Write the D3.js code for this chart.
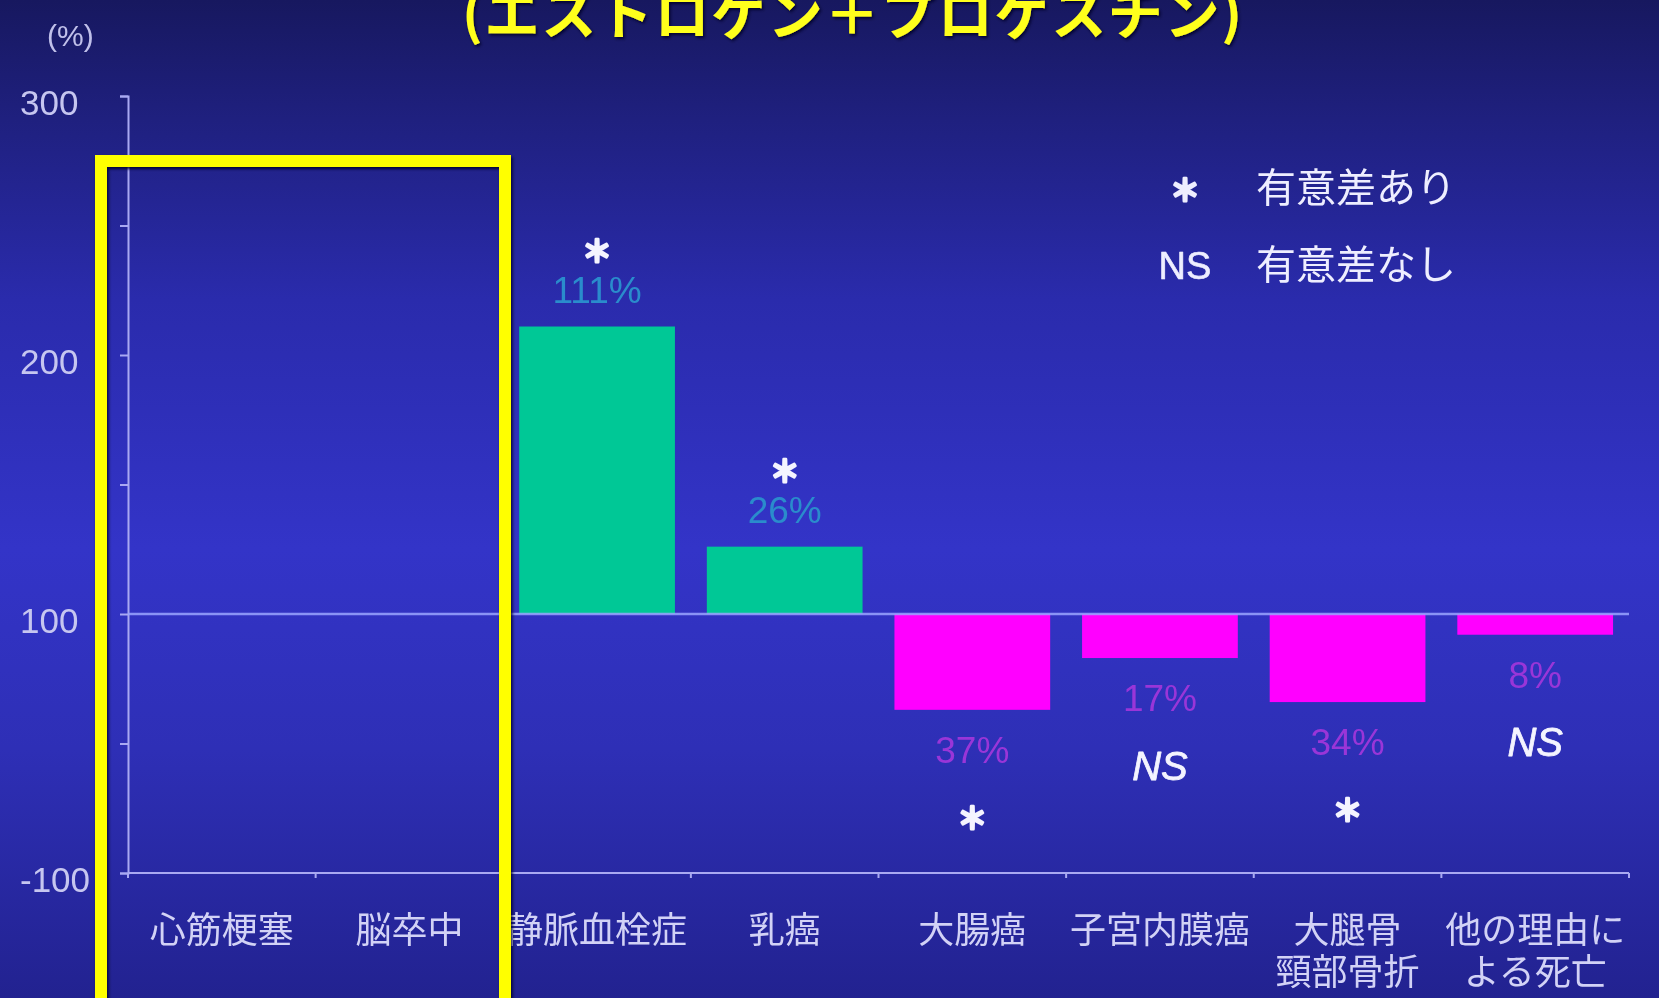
<!DOCTYPE html>
<html lang="ja">
<head>
<meta charset="utf-8">
<script src="https://cdn.jsdelivr.net/npm/d3@7"></script>
<style>
  html, body { margin: 0; padding: 0; background: #22238f; overflow: hidden; }
  svg { display: block; }
</style>
</head>
<body>
<svg id="chart" width="1659" height="998"></svg>
<script>
// Relative risk versus placebo (%), baseline = 100
const categories = [
  ["心筋梗塞"], ["脳卒中"], ["静脈血栓症"], ["乳癌"],
  ["大腸癌"], ["子宮内膜癌"], ["大腿骨", "頸部骨折"], ["他の理由に", "よる死亡"]
];
const changes = [null, null, 111, 26, -37, -17, -34, -8];
const significance = [null, null, "*", "*", "*", "NS", "*", "NS"];

const yTicks = [0, 50, 100, 150, 200, 250, 300];
const yLabelValues = [0, 100, 200, 300];
const yLabelTexts = ["-100", "100", "200", "300"];

const titleText = "(エストロゲン＋プロゲスチン)";
const unitText = "(%)";
const legendMarks = ["＊", "NS"];
const legendTexts = ["有意差あり", "有意差なし"];

const W = 1659, H = 998;
const svg = d3.select("#chart");
const defs = svg.append("defs");

// background gradient
const bg = defs.append("linearGradient").attr("id", "bg")
  .attr("x1", 0).attr("y1", 0).attr("x2", 0).attr("y2", 1);
[[0, "#17185f"], [0.12, "#1f207f"], [0.3, "#2a2bac"], [0.55, "#3334c8"],
 [0.75, "#2e2fb6"], [1, "#222290"]]
  .forEach(([o, c]) => bg.append("stop").attr("offset", o).attr("stop-color", c));
svg.append("rect").attr("width", W).attr("height", H).attr("fill", "url(#bg)");

const shadow = defs.append("filter").attr("id", "shadow")
  .attr("x", "-5%").attr("y", "-5%").attr("width", "110%").attr("height", "110%");
shadow.append("feDropShadow").attr("dx", 1.5).attr("dy", 2).attr("stdDeviation", 1.5)
  .attr("flood-color", "#05052a").attr("flood-opacity", 0.9);

const soft = defs.append("filter").attr("id", "soft");
soft.append("feGaussianBlur").attr("stdDeviation", 0.6);

// scales
const x = d3.scaleBand().domain(d3.range(categories.length))
  .range([128, 1629]).paddingInner(0.17).paddingOuter(0.085);
const y = d3.scaleLinear().domain([0, 300]).range([873, 96]);

const axisColor = "#a9a9f2";
const g = svg.append("g").attr("filter", "url(#soft)");

// y axis
const yAxis = g.append("g").attr("transform", `translate(${x.range()[0]},0)`)
  .call(d3.axisLeft(y).tickValues(yTicks).tickSize(8).tickFormat(""));
yAxis.selectAll("path, line").attr("stroke", axisColor).attr("stroke-width", 2);

g.append("g").selectAll("text").data(yLabelValues).join("text")
  .attr("x", 20).attr("y", d => y(d) + 10)
  .attr("dominant-baseline", "middle")
  .attr("font-family", "'Liberation Sans', Arial, sans-serif")
  .attr("font-size", 35).attr("fill", "#c6c6f0")
  .text((d, i) => yLabelTexts[i]);

g.append("text").attr("x", 47).attr("y", 38)
  .attr("dominant-baseline", "middle")
  .attr("font-family", "'Liberation Sans', Arial, sans-serif")
  .attr("font-size", 30).attr("fill", "#c0c0ea")
  .text(unitText);

// bottom axis with ticks at category boundaries
const x0 = x.range()[0], step = x.step();
const bounds = d3.range(categories.length + 1).map(i => x0 + i * step);
g.append("line").attr("x1", x0).attr("x2", x.range()[1])
  .attr("y1", y(0)).attr("y2", y(0))
  .attr("stroke", axisColor).attr("stroke-width", 2);
g.append("g").selectAll("line").data(bounds).join("line")
  .attr("x1", d => d).attr("x2", d => d)
  .attr("y1", y(0)).attr("y2", y(0) + 5)
  .attr("stroke", axisColor).attr("stroke-width", 2);

// bars
const data = changes.map((c, i) => ({ i, c, sig: significance[i] }))
  .filter(d => d.c !== null);
g.append("g").selectAll("rect").data(data).join("rect")
  .attr("x", d => x(d.i)).attr("width", x.bandwidth())
  .attr("y", d => y(Math.max(100, 100 + d.c)))
  .attr("height", d => Math.abs(y(100) - y(100 + d.c)))
  .attr("fill", d => d.c > 0 ? "#00c896" : "#ff00ff");

// baseline at 100
g.append("line").attr("x1", x0).attr("x2", x.range()[1])
  .attr("y1", y(100)).attr("y2", y(100))
  .attr("stroke", "#9aa4ff").attr("stroke-width", 2.5).attr("stroke-opacity", 0.85);

// value labels
g.append("g").selectAll("text").data(data).join("text")
  .attr("x", d => x(d.i) + x.bandwidth() / 2)
  .attr("y", d => y(100 + d.c) + (d.c > 0 ? -33 : 43))
  .attr("text-anchor", "middle").attr("dominant-baseline", "middle")
  .attr("font-family", "'Liberation Sans', Arial, sans-serif")
  .attr("font-size", 37)
  .attr("fill", d => d.c > 0 ? "#2a8ccc" : "#9a36d8")
  .text(d => Math.abs(d.c) + "%");

// significance marks
const isNS = d => d.sig === "NS";
g.append("g").selectAll("text").data(data).join("text")
  .attr("x", d => x(d.i) + x.bandwidth() / 2)
  .attr("y", d => y(100 + d.c) + (d.c > 0 ? -73 : 111))
  .attr("text-anchor", "middle").attr("dominant-baseline", "middle")
  .attr("font-family", d => isNS(d) ? "'Liberation Sans', Arial, sans-serif" : "'Noto Sans CJK JP', sans-serif")
  .attr("font-style", d => isNS(d) ? "italic" : "normal")
  .attr("font-weight", d => isNS(d) ? "normal" : "bold")
  .attr("font-size", d => isNS(d) ? 40 : 30)
  .attr("fill", "#f4f4ff")
  .attr("stroke", "#f4f4ff")
  .attr("stroke-width", d => isNS(d) ? 0.8 : 2.6)
  .attr("stroke-linejoin", "round")
  .text(d => isNS(d) ? "NS" : "＊");

// category labels, one text per line
const catLines = categories.flatMap((lines, i) => lines.map((t, j) => ({ t, i, j })));
g.append("g").selectAll("text").data(catLines).join("text")
  .attr("x", d => x(d.i) + x.bandwidth() / 2)
  .attr("y", d => 933 + d.j * 42)
  .attr("text-anchor", "middle").attr("dominant-baseline", "middle")
  .attr("font-family", "'Noto Sans CJK JP', sans-serif")
  .attr("font-size", 36).attr("fill", "#d2d2f6")
  .text(d => d.t);

// legend
const lg = g.append("g");
lg.selectAll("text.mark").data(legendMarks).join("text").attr("class", "mark")
  .attr("x", 1185).attr("y", (d, i) => 193 + i * 76)
  .attr("text-anchor", "middle").attr("dominant-baseline", "middle")
  .attr("font-family", (d, i) => i === 0 ? "'Noto Sans CJK JP', sans-serif" : "'Liberation Sans', Arial, sans-serif")
  .attr("font-weight", (d, i) => i === 0 ? "bold" : "normal")
  .attr("font-size", (d, i) => i === 0 ? 30 : 38)
  .attr("fill", "#eeeeff")
  .attr("stroke", "#eeeeff").attr("stroke-width", (d, i) => i === 0 ? 2.6 : 0.6)
  .attr("stroke-linejoin", "round")
  .text(d => d);
lg.selectAll("text.desc").data(legendTexts).join("text").attr("class", "desc")
  .attr("x", 1256).attr("y", (d, i) => 191 + i * 77)
  .attr("dominant-baseline", "middle")
  .attr("font-family", "'Noto Sans CJK JP', sans-serif")
  .attr("font-size", 40).attr("fill", "#eeeeff")
  .text(d => d);

// highlight frame around the first two categories
svg.append("rect")
  .attr("x", 101).attr("y", 161).attr("width", 404).attr("height", 900)
  .attr("fill", "none").attr("stroke", "#ffff00").attr("stroke-width", 12)
  .attr("filter", "url(#shadow)");

// title
svg.append("text")
  .attr("x", 462).attr("y", 34)
  .attr("textLength", 780).attr("lengthAdjust", "spacing")
  .attr("font-family", "'Noto Sans CJK JP', sans-serif")
  .attr("font-weight", "bold").attr("font-size", 55)
  .attr("fill", "#ffff1a").attr("filter", "url(#shadow)")
  .text(titleText);
</script>
</body>
</html>
